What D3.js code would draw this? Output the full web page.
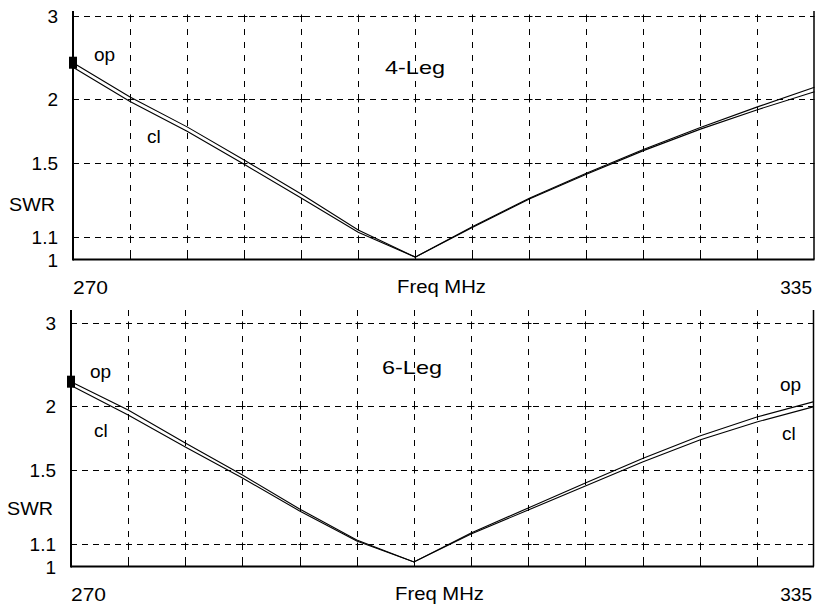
<!DOCTYPE html>
<html><head><meta charset="utf-8">
<script src="https://cdn.jsdelivr.net/npm/d3@7"></script>
<style>
html,body{margin:0;padding:0;background:#fff;}
svg{display:block;}
text{font-family:"Liberation Sans",Arial,sans-serif;font-size:19px;fill:#000;}
</style></head>
<body>
<svg id="c" width="815" height="608"></svg>
<script>
// ---- data ----
const freqs = [270,275,280,285,290,295,300,305,310,315,320,325,330,335];
const swrTicks = [1, 1.1, 1.5, 2, 3];
const swrTickLabels = ["1","1.1","1.5","2","3"];
const xLabels = ["270","Freq MHz","335"];
const fourLegOpen   = [2.37,2.02,1.76,1.518,1.314,1.131,1.01,1.146,1.29,1.434,1.59,1.755,1.93,2.112];
const fourLegClosed = [2.32,1.98,1.725,1.49,1.292,1.12,1.01,1.143,1.286,1.428,1.582,1.742,1.905,2.07];
const sixLegOpen    = [2.238,1.963,1.688,1.466,1.270,1.117,1.019,1.150,1.276,1.417,1.575,1.742,1.900,2.040];
const sixLegClosed  = [2.198,1.918,1.658,1.448,1.260,1.112,1.019,1.145,1.265,1.399,1.551,1.710,1.857,1.994];
const panelTitles = ["4-Leg","6-Leg"];

const svg = d3.select("#c");
const rho = s => (s-1)/(s+1);

const panels = [
  {title:panelTitles[0], op:fourLegOpen, cl:fourLegClosed, x0:73, x1:814.5,
   yPix:[259.5,236.7,162.7,99.3,16], top:11, rightLabels:false,
   opL:[94,61], clL:[147,143], titleX:385, titleY:74, swrY:211, lblOff:15},
  {title:panelTitles[1], op:sixLegOpen, cl:sixLegClosed, x0:71, x1:814,
   yPix:[566.5,543.7,469.7,406,323.3], top:310, rightLabels:true,
   opL:[90,378], clL:[94,437], titleX:382, titleY:374, swrY:515, lblOff:15,
   opR:[780,391], clR:[782,440]}
];

panels.forEach(p=>{
  const g = svg.append("g");
  const x = d3.scaleLinear().domain([freqs[0], freqs[freqs.length-1]]).range([p.x0, p.x1]);
  const yr = d3.scaleLinear().domain(swrTicks.map(rho)).range(p.yPix);
  const y = s => yr(rho(s));
  const yBot = y(1), yTop = y(3);

  // vertical dashed grid
  const vx = freqs.slice(1, -1);
  g.selectAll(".vg").data(vx).join("line")
    .attr("x1", d=>Math.round(x(d))+0.5).attr("x2", d=>Math.round(x(d))+0.5)
    .attr("y1", p.top === 11 ? yTop : p.top).attr("y2", yBot)
    .attr("stroke","#000").attr("stroke-width",1).attr("stroke-dasharray","6,7");
  // horizontal dashed grid
  g.selectAll(".hg").data(swrTicks.slice(1)).join("line")
    .attr("x1", p.x0).attr("x2", p.x1)
    .attr("y1", d=>Math.round(y(d))+0.5).attr("y2", d=>Math.round(y(d))+0.5)
    .attr("stroke","#000").attr("stroke-width",1).attr("stroke-dasharray","6,5");
  // intersection crosses
  const inter = [];
  vx.forEach(f=>swrTicks.slice(1).forEach(s=>inter.push([f,s])));
  g.selectAll(".ic").data(inter).join("path")
    .attr("d", d=>{const cx=Math.round(x(d[0]))+0.5, cy=Math.round(y(d[1]))+0.5;
      return `M${cx-2},${cy}H${cx+3}M${cx},${cy-2}V${cy+3}`;})
    .attr("stroke","#000").attr("stroke-width",1);
  // bottom axis ticks
  g.selectAll(".bt").data(vx).join("line")
    .attr("x1", d=>Math.round(x(d))+0.5).attr("x2", d=>Math.round(x(d))+0.5)
    .attr("y1", yBot-4).attr("y2", yBot)
    .attr("stroke","#000").attr("stroke-width",1);
  // axes frame
  g.append("line").attr("x1",p.x0).attr("x2",p.x0).attr("y1",p.top).attr("y2",yBot+1)
    .attr("stroke","#000").attr("stroke-width",2);
  g.append("line").attr("x1",p.x0).attr("x2",p.x1).attr("y1",yBot).attr("y2",yBot)
    .attr("stroke","#000").attr("stroke-width",2);
  g.append("line").attr("x1",p.x1-0.5).attr("x2",p.x1-0.5).attr("y1",p.top).attr("y2",yBot)
    .attr("stroke","#000").attr("stroke-width",1.5);

  // curves
  const line = d3.line().x((d,i)=>x(freqs[i])).y(d=>y(d));
  [p.op, p.cl].forEach(arr=>{
    g.append("path").datum(arr).attr("d", line)
      .attr("fill","none").attr("stroke","#000").attr("stroke-width",1.1);
  });
  // marker square at start of op curve
  g.append("rect").attr("x", p.x0-4).attr("y", y(p.op[0])-6).attr("width",8).attr("height",12)
    .attr("fill","#000");

  // y tick labels
  g.selectAll(".yl").data(swrTicks).join("text")
    .attr("x", p.x0 - p.lblOff).attr("y", d=>y(d)+7).attr("text-anchor","end")
    .text((d,i)=>swrTickLabels[i]);
  g.append("text").attr("x", p.x0 - 64).attr("y", p.swrY).attr("textLength",46)
    .attr("lengthAdjust","spacingAndGlyphs").text("SWR");

  // x labels
  const xb = yBot + 34;
  g.append("text").attr("x", x(freqs[0])).attr("y", xb).attr("textLength",35)
    .attr("lengthAdjust","spacingAndGlyphs").text(xLabels[0]);
  g.append("text").attr("x", 397 - (73 - p.x0)).attr("y", xb-1).attr("textLength",89)
    .attr("lengthAdjust","spacingAndGlyphs").text(xLabels[1]);
  g.append("text").attr("x", 812).attr("y", xb).attr("text-anchor","end").text(xLabels[2]);

  // title
  g.append("text").attr("x", p.titleX).attr("y", p.titleY).attr("textLength",60)
    .attr("lengthAdjust","spacingAndGlyphs").text(p.title);
  // curve labels
  g.append("text").attr("x", p.opL[0]).attr("y", p.opL[1]).text("op");
  g.append("text").attr("x", p.clL[0]).attr("y", p.clL[1]).text("cl");
  if (p.rightLabels){
    g.append("text").attr("x", p.opR[0]).attr("y", p.opR[1]).text("op");
    g.append("text").attr("x", p.clR[0]).attr("y", p.clR[1]).text("cl");
  }
});
</script>
</body></html>
